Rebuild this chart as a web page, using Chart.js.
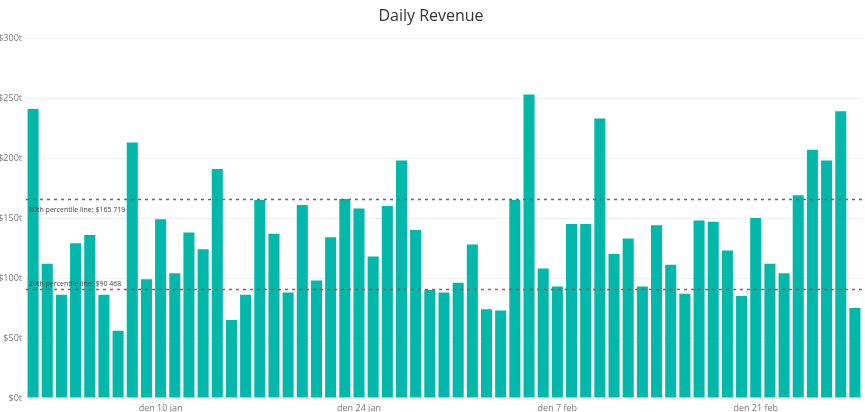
<html>
<head>
<meta charset="utf-8">
<title>Daily Revenue</title>
<script src="https://cdn.jsdelivr.net/npm/chart.js@4.4.1/dist/chart.umd.min.js"></script>
<style>
html, body { margin: 0; padding: 0; background: #fff; }
#wrap { position: relative; width: 865px; height: 412px; }
</style>
</head>
<body>
<div id="wrap">
    <canvas id="revenueChart" width="865" height="412"></canvas>
</div>

<script>
// one bar per day, 1 jan - 28 feb
var days = [
    'den 1 jan', 'den 2 jan', 'den 3 jan', 'den 4 jan', 'den 5 jan', 'den 6 jan', 'den 7 jan',
    'den 8 jan', 'den 9 jan', 'den 10 jan', 'den 11 jan', 'den 12 jan', 'den 13 jan', 'den 14 jan',
    'den 15 jan', 'den 16 jan', 'den 17 jan', 'den 18 jan', 'den 19 jan', 'den 20 jan', 'den 21 jan',
    'den 22 jan', 'den 23 jan', 'den 24 jan', 'den 25 jan', 'den 26 jan', 'den 27 jan', 'den 28 jan',
    'den 29 jan', 'den 30 jan', 'den 31 jan', 'den 1 feb', 'den 2 feb', 'den 3 feb', 'den 4 feb',
    'den 5 feb', 'den 6 feb', 'den 7 feb', 'den 8 feb', 'den 9 feb', 'den 10 feb', 'den 11 feb',
    'den 12 feb', 'den 13 feb', 'den 14 feb', 'den 15 feb', 'den 16 feb', 'den 17 feb', 'den 18 feb',
    'den 19 feb', 'den 20 feb', 'den 21 feb', 'den 22 feb', 'den 23 feb', 'den 24 feb', 'den 25 feb',
    'den 26 feb', 'den 27 feb', 'den 28 feb'
];

// daily revenue in dollars
var revenue = [
    241000, 112000, 86000, 129000, 136000, 86000, 56000,
    213000, 99000, 149000, 104000, 138000, 124000, 191000,
    65000, 86000, 165000, 137000, 88000, 161000, 98000,
    134000, 166000, 158000, 118000, 160000, 198000, 140000,
    90000, 88000, 96000, 128000, 74000, 73000, 165000,
    253000, 108000, 93000, 145000, 145000, 233000, 120000,
    133000, 93000, 144000, 111000, 87000, 148000, 147000,
    123000, 85000, 150000, 112000, 104000, 169000, 207000,
    198000, 239000, 75000
];

var shownDays = ['den 10 jan', 'den 24 jan', 'den 7 feb', 'den 21 feb'];

var p80 = 165719;
var p20 = 90468;
var p80Label = '80th percentile line: $165 719';
var p20Label = '20th percentile line: $90 468';

//////////////////////////////////////////////

// dashed percentile lines across the whole plot area
const percentileLines = {
    id: 'percentileLines',
    afterDatasetsDraw(chart) {
        const c = chart.ctx;
        const area = chart.chartArea;
        const y = chart.scales.y;
        const lines = [
            { v: p80, color: '#5f6b73', text: p80Label, dy: 10 },
            { v: p20, color: '#d0414b', text: p20Label, dy: -6 }
        ];
        c.save();
        for (let i = 0; i < lines.length; i++) {
            let py = Math.round(y.getPixelForValue(lines[i].v)) + 0.5;
            c.beginPath();
            c.setLineDash([3, 4]);
            c.lineWidth = 1.6;
            c.strokeStyle = lines[i].color;
            c.moveTo(area.left, py);
            c.lineTo(area.right, py);
            c.stroke();
            c.setLineDash([]);
            c.fillStyle = '#444';
            c.font = '7px "Open Sans", sans-serif';
            c.textBaseline = 'middle';
            c.fillText(lines[i].text, area.left + 3, py + lines[i].dy);
        }
        c.restore();
    }
};

const ctx = document.getElementById('revenueChart').getContext('2d');
const revenueChart = new Chart(ctx, {
    type: 'bar',
    data: {
        labels: days,
        datasets: [{
            label: 'Revenue',
            data: revenue,
            backgroundColor: '#01b8aa',
            barPercentage: 0.78,
            categoryPercentage: 1.0
        }]
    },
    options: {
        responsive: false,
        animation: false,
        layout: { padding: { left: 0, right: 3, top: 0, bottom: 0 } },
        plugins: {
            legend: { display: false },
            tooltip: { enabled: false },
            title: {
                display: true,
                text: 'Daily Revenue',
                color: '#333',
                font: { family: '"Segoe UI", "Open Sans", sans-serif', size: 16, weight: 'normal' },
                padding: { top: 7, bottom: 12 }
            }
        },
        scales: {
            x: {
                grid: { display: false, drawTicks: false },
                border: { display: false },
                afterFit: function(scale) { scale.height = 14; },
                ticks: {
                    autoSkip: false,
                    maxRotation: 0,
                    padding: 5,
                    color: '#777',
                    font: { family: '"Open Sans", sans-serif', size: 9 },
                    callback: function(value, index) {
                        let d = days[index];
                        return shownDays.includes(d) ? d : '';
                    }
                }
            },
            y: {
                min: 0,
                max: 300000,
                grid: { color: '#eeeeee', drawTicks: false },
                border: { display: false },
                afterFit: function(scale) { scale.width = 26; },
                ticks: {
                    stepSize: 50000,
                    padding: 4,
                    color: '#777',
                    font: { family: '"Open Sans", sans-serif', size: 9 },
                    callback: function(value) {
                        return '$' + Math.round(value / 1000) + 't';
                    }
                }
            }
        }
    },
    plugins: [percentileLines]
});
</script>
</body>
</html>
